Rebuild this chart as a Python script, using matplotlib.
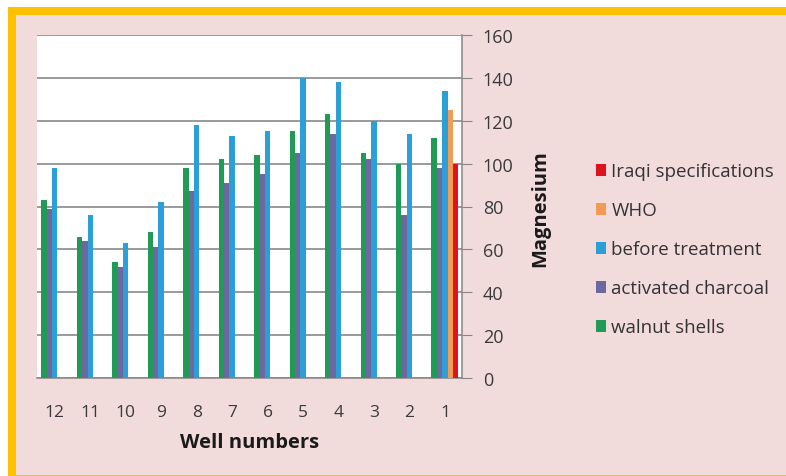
import numpy as np
import matplotlib
matplotlib.use("Agg")
import matplotlib.pyplot as plt
from matplotlib.patches import Patch, Rectangle

# Magnesium per well (wells listed in chart order)
wells = ["12", "11", "10", "9", "8", "7", "6", "5", "4", "3", "2", "1"]
walnut_shells = [83, 66, 54, 68, 98, 102, 104, 115, 123, 105, 100, 112]
activated_charcoal = [79, 64, 52, 61, 87, 91, 95, 105, 114, 102, 76, 98]
before_treatment = [98, 76, 63, 82, 118, 113, 115, 140, 138, 120, 114, 134]
# limits are only drawn beside well 1
limit_wells = ["1"]
who_limit = [125]
iraqi_limit = [100]

plt.rcParams["font.family"] = ["Open Sans", "DejaVu Sans"]

fig = plt.figure(figsize=(7.86, 4.77), dpi=100)
fig.patch.set_facecolor("white")

# gold frame on top/left, pink panel inside
W, H = 786, 477
fig.patches.append(Rectangle((8 / W, 0), 1, (H - 8) / H, transform=fig.transFigure,
                             facecolor="#ffc000", edgecolor="none", zorder=-2))
fig.patches.append(Rectangle((16 / W, 1 / H), 1, (H - 17) / H, transform=fig.transFigure,
                             facecolor="#f2dcdb", edgecolor="none", zorder=-1))

ax = fig.add_axes([37 / W, 1 - 379 / H, (462 - 37) / W, (379 - 36) / H])
ax.set_zorder(5)
ax.set_facecolor("white")

x = np.arange(len(wells))
w = 0.152
colors = {
    "walnut": "#1f9b55",
    "charcoal": "#6d69a0",
    "before": "#2a9fd8",
    "who": "#f39a55",
    "iraqi": "#dd141e",
}

ax.bar(x - 2 * w, walnut_shells, w, color=colors["walnut"], zorder=3)
ax.bar(x - w, activated_charcoal, w, color=colors["charcoal"], zorder=3)
ax.bar(x, before_treatment, w, color=colors["before"], zorder=3)
lx = np.array([wells.index(wl) for wl in limit_wells])
ax.bar(lx + w, who_limit, w, color=colors["who"], zorder=3)
ax.bar(lx + 2 * w, iraqi_limit, w, color=colors["iraqi"], zorder=3)

ax.set_xlim(-0.5, 11.48)
ax.set_ylim(0, 160)
ax.set_yticks(range(0, 161, 20))
ax.yaxis.tick_right()
ax.tick_params(axis="y", direction="out", length=7, color="#868686",
               labelsize=13, pad=8, labelcolor="#3a3a3a")
ax.set_xticks(x)
ax.set_xticklabels(wells)
ax.tick_params(axis="x", length=0, labelsize=12.5, pad=19, labelcolor="#3a3a3a")
ax.grid(axis="y", color="#7f7f7f", linewidth=1.1, zorder=0)

for side in ["left", "top"]:
    ax.spines[side].set_visible(False)
for side in ["right", "bottom"]:
    ax.spines[side].set_color("#868686")
    ax.spines[side].set_linewidth(1.1)

fig.text(250 / W, 1 - 443 / H, "Well numbers", ha="center", va="center",
         fontsize=14.5, fontweight="bold", color="#1a1a1a")
fig.text(540 / W, 1 - 209 / H, "Magnesium", ha="center", va="center",
         rotation=90, fontsize=14.5, fontweight="bold", color="#1a1a1a")

handles = [
    Patch(facecolor=colors["iraqi"], label="Iraqi specifications"),
    Patch(facecolor=colors["who"], label="WHO"),
    Patch(facecolor=colors["before"], label="before treatment"),
    Patch(facecolor=colors["charcoal"], label="activated charcoal"),
    Patch(facecolor=colors["walnut"], label="walnut shells"),
]
fig.legend(handles=handles, loc="upper left", bbox_to_anchor=(588 / W, 1 - 156 / H),
           frameon=False, fontsize=13.5, handlelength=0.55, handleheight=0.55,
           handletextpad=0.3, labelspacing=1.12, borderaxespad=0, labelcolor="#333333")

fig.savefig("out.png", dpi=100, facecolor=fig.get_facecolor())
